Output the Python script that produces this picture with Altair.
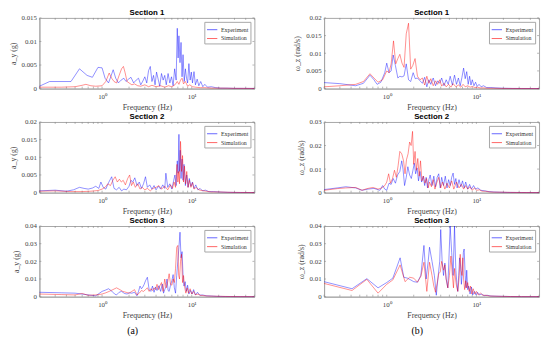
import altair as alt
import pandas as pd

# ---------------- data (frequency Hz, amplitude) ----------------
ay_s1_exp = [(0.2, 0.0005), (0.26, 0.0015), (0.45, 0.0015), (0.56, 0.0042), (0.68, 0.0028), (0.78, 0.0024),
             (0.9, 0.0045), (1.0, 0.0044), (1.08, 0.0022), (1.18, 0.0012), (1.25, 0.0025), (1.33, 0.004),
             (1.42, 0.0022), (1.52, 0.0012), (1.63, 0.0018), (1.75, 0.0022), (1.85, 0.0015), (1.97, 0.002),
             (2.1, 0.0024), (2.25, 0.0012), (2.4, 0.0018), (2.55, 0.0022), (2.7, 0.0008), (2.85, 0.0016),
             (3.0, 0.0025), (3.15, 0.0012), (3.3, 0.0038), (3.45, 0.0047), (3.6, 0.0015), (3.75, 0.0028),
             (3.9, 0.0008), (4.05, 0.0035), (4.2, 0.0022), (4.4, 0.0005), (4.6, 0.0032), (4.8, 0.0018),
             (5.0, 0.0028), (5.2, 0.0008), (5.45, 0.0032), (5.7, 0.0012), (5.95, 0.0025), (6.2, 0.0006),
             (6.45, 0.0042), (6.7, 0.0018), (6.9, 0.0128), (7.05, 0.0065), (7.2, 0.0112), (7.4, 0.0055),
             (7.6, 0.0098), (7.8, 0.0025), (8.0, 0.0072), (8.25, 0.0015), (8.5, 0.0042), (8.75, 0.0022),
             (9.0, 0.0012), (9.3, 0.0053), (9.6, 0.0018), (9.9, 0.0035), (10.2, 0.0012), (10.6, 0.0036),
             (11.0, 0.0008), (11.5, 0.002), (12.0, 0.0006), (12.6, 0.0015), (13.3, 0.0004), (14.0, 0.0009),
             (15.0, 0.0003), (16.5, 0.0004), (18.5, 0.0002), (21, 0.0001), (25, 0.0001), (30, 0.00005),
             (38, 0.00005), (50, 0.00003)]
ay_s1_sim = [(0.2, 0.0003), (0.35, 0.0003), (0.5, 0.0004), (0.6, 0.0007), (0.66, 0.0009), (0.75, 0.0006),
             (0.85, 0.0005), (1.0, 0.0006), (1.1, 0.0015), (1.2, 0.0033), (1.28, 0.0022), (1.36, 0.0015),
             (1.45, 0.0012), (1.55, 0.0028), (1.65, 0.0042), (1.73, 0.0047), (1.8, 0.0035), (1.9, 0.0015),
             (2.0, 0.0012), (2.15, 0.0008), (2.3, 0.001), (2.5, 0.0006), (2.7, 0.0005), (3.0, 0.0008),
             (3.3, 0.0004), (3.6, 0.0007), (4.0, 0.0004), (4.5, 0.0006), (5.0, 0.0003), (5.5, 0.0006),
             (6.0, 0.0004), (6.5, 0.0008), (6.9, 0.0015), (7.2, 0.0009), (7.5, 0.0018), (7.8, 0.0022),
             (8.1, 0.001), (8.5, 0.0015), (9.0, 0.0005), (9.5, 0.0008), (10.2, 0.0004), (11, 0.0003),
             (12.5, 0.0002), (14, 0.0002), (17, 0.0001), (22, 0.0001), (30, 0.00005), (50, 0.00003)]

wz_s1_exp = [(0.2, 0.0017), (0.3, 0.0014), (0.45, 0.0008), (0.55, 0.0015), (0.65, 0.0038), (0.72, 0.0025),
             (0.78, 0.0012), (0.86, 0.0018), (0.95, 0.0045), (1.0, 0.0072), (1.06, 0.0045), (1.12, 0.005),
             (1.18, 0.0095), (1.25, 0.0065), (1.33, 0.003), (1.4, 0.0035), (1.48, 0.0033), (1.56, 0.0036),
             (1.65, 0.007), (1.75, 0.0025), (1.85, 0.002), (1.97, 0.0045), (2.08, 0.0028), (2.2, 0.003),
             (2.35, 0.0022), (2.5, 0.0015), (2.65, 0.0032), (2.8, 0.0005), (2.95, 0.0025), (3.1, 0.0012),
             (3.3, 0.003), (3.5, 0.0008), (3.7, 0.0022), (3.9, 0.0015), (4.1, 0.003), (4.35, 0.0008),
             (4.6, 0.0025), (4.85, 0.0012), (5.1, 0.0035), (5.4, 0.001), (5.7, 0.0038), (6.0, 0.0012),
             (6.3, 0.003), (6.6, 0.0008), (6.9, 0.0032), (7.2, 0.0058), (7.5, 0.0028), (7.8, 0.0048),
             (8.1, 0.0012), (8.4, 0.0035), (8.7, 0.001), (9.0, 0.0025), (9.4, 0.0008), (9.8, 0.0018),
             (10.2, 0.0006), (10.7, 0.0012), (11.3, 0.0005), (12, 0.0008), (13, 0.0003), (14.5, 0.0003),
             (16.5, 0.0002), (20, 0.0001), (25, 0.00005), (32, 0.00003), (50, 0.00002)]
wz_s1_sim = [(0.2, 0.0005), (0.3, 0.0008), (0.45, 0.0012), (0.55, 0.002), (0.65, 0.0042), (0.72, 0.003),
             (0.8, 0.0018), (0.9, 0.0025), (1.0, 0.005), (1.06, 0.0045), (1.12, 0.007), (1.19, 0.0135),
             (1.26, 0.007), (1.33, 0.0085), (1.4, 0.0097), (1.48, 0.0072), (1.56, 0.006), (1.65, 0.0155),
             (1.75, 0.0185), (1.85, 0.0055), (1.95, 0.0065), (2.07, 0.0085), (2.2, 0.0035), (2.35, 0.0025),
             (2.5, 0.003), (2.65, 0.001), (2.8, 0.0035), (2.95, 0.0015), (3.1, 0.0028), (3.3, 0.0008),
             (3.5, 0.0022), (3.7, 0.0012), (3.9, 0.0025), (4.1, 0.0007), (4.35, 0.0015), (4.6, 0.0005),
             (4.9, 0.0012), (5.2, 0.0004), (5.5, 0.0014), (5.9, 0.0005), (6.3, 0.001), (6.7, 0.0004),
             (7.1, 0.0012), (7.5, 0.0005), (8.0, 0.0008), (8.5, 0.0004), (9.0, 0.0006), (9.6, 0.0003),
             (10.3, 0.0004), (11, 0.0002), (12, 0.0002), (13.5, 0.0001), (15.5, 0.0001), (19, 0.00005),
             (25, 0.00003), (33, 0.00002), (50, 0.00001)]

ay_s2_exp = [(0.2, 0.0005), (0.3, 0.0007), (0.4, 0.0004), (0.48, 0.0008), (0.56, 0.0015), (0.63, 0.0012),
             (0.7, 0.001), (0.78, 0.0013), (0.85, 0.0018), (0.92, 0.0012), (0.97, 0.003), (1.03, 0.0015),
             (1.1, 0.001), (1.18, 0.0028), (1.28, 0.0045), (1.36, 0.0012), (1.45, 0.0008), (1.55, 0.0015),
             (1.65, 0.0005), (1.75, 0.001), (1.87, 0.0008), (2.0, 0.0018), (2.1, 0.0035), (2.2, 0.003),
             (2.32, 0.0042), (2.45, 0.002), (2.6, 0.003), (2.75, 0.0012), (2.9, 0.0025), (3.05, 0.0045),
             (3.2, 0.0015), (3.4, 0.0022), (3.6, 0.001), (3.8, 0.002), (4.0, 0.0008), (4.25, 0.0018),
             (4.5, 0.001), (4.75, 0.0022), (5.0, 0.0012), (5.15, 0.0055), (5.4, 0.0015), (5.7, 0.0025),
             (6.0, 0.001), (6.3, 0.0035), (6.5, 0.005), (6.7, 0.002), (6.9, 0.009), (7.05, 0.0055),
             (7.2, 0.0165), (7.3, 0.006), (7.45, 0.012), (7.6, 0.004), (7.8, 0.0095), (8.0, 0.0035),
             (8.2, 0.008), (8.5, 0.002), (8.8, 0.005), (9.1, 0.0015), (9.4, 0.004), (9.8, 0.0018),
             (10.2, 0.003), (10.6, 0.0012), (11.1, 0.0022), (11.7, 0.0008), (12.4, 0.0012), (13.2, 0.0005),
             (14.2, 0.0007), (15.5, 0.0003), (17.5, 0.0003), (20, 0.0002), (25, 0.0001), (32, 0.00005),
             (50, 0.00003)]
ay_s2_sim = [(0.2, 0.0004), (0.3, 0.0005), (0.45, 0.0003), (0.6, 0.0003), (0.75, 0.0004), (0.9, 0.0006),
             (1.0, 0.001), (1.08, 0.0015), (1.16, 0.0025), (1.24, 0.002), (1.32, 0.0035), (1.4, 0.0045),
             (1.48, 0.003), (1.56, 0.0038), (1.64, 0.003), (1.72, 0.0035), (1.82, 0.0022), (1.93, 0.004),
             (2.03, 0.005), (2.13, 0.002), (2.23, 0.003), (2.35, 0.0015), (2.5, 0.0025), (2.65, 0.001),
             (2.8, 0.0015), (3.0, 0.0008), (3.2, 0.0012), (3.45, 0.0005), (3.7, 0.0012), (4.0, 0.0015),
             (4.3, 0.002), (4.6, 0.001), (5.0, 0.0018), (5.4, 0.0008), (5.8, 0.0022), (6.1, 0.0012),
             (6.35, 0.003), (6.6, 0.0015), (6.85, 0.008), (7.0, 0.003), (7.15, 0.006), (7.3, 0.0025),
             (7.5, 0.0145), (7.7, 0.006), (7.9, 0.0105), (8.1, 0.003), (8.3, 0.0075), (8.55, 0.0025),
             (8.8, 0.006), (9.1, 0.0015), (9.4, 0.0035), (9.8, 0.0015), (10.2, 0.0028), (10.6, 0.001),
             (11.2, 0.0015), (12, 0.0008), (13, 0.0006), (14.5, 0.0004), (16.5, 0.0002), (20, 0.0002),
             (26, 0.0001), (35, 0.00005), (50, 0.00003)]

wz_s2_exp = [(0.2, 0.0013), (0.28, 0.002), (0.35, 0.0025), (0.45, 0.002), (0.53, 0.001), (0.62, 0.0015),
             (0.72, 0.0018), (0.84, 0.001), (0.9, 0.003), (0.95, 0.0015), (1.0, 0.001), (1.06, 0.004),
             (1.12, 0.0035), (1.18, 0.006), (1.25, 0.004), (1.32, 0.0075), (1.4, 0.009), (1.47, 0.0135),
             (1.52, 0.01), (1.58, 0.003), (1.65, 0.0065), (1.72, 0.011), (1.8, 0.0075), (1.88, 0.006),
             (1.96, 0.0095), (2.03, 0.0125), (2.1, 0.008), (2.18, 0.0105), (2.26, 0.005), (2.35, 0.009),
             (2.45, 0.0045), (2.55, 0.007), (2.65, 0.003), (2.75, 0.0065), (2.85, 0.002), (2.95, 0.0055),
             (3.05, 0.0075), (3.2, 0.003), (3.35, 0.007), (3.5, 0.0025), (3.65, 0.0065), (3.8, 0.008),
             (3.95, 0.002), (4.1, 0.0065), (4.3, 0.003), (4.5, 0.007), (4.7, 0.002), (4.9, 0.0055),
             (5.1, 0.003), (5.3, 0.0065), (5.5, 0.0083), (5.7, 0.0035), (5.9, 0.006), (6.1, 0.002),
             (6.4, 0.0055), (6.7, 0.0025), (7.0, 0.005), (7.3, 0.002), (7.6, 0.0045), (8.0, 0.0015),
             (8.4, 0.0035), (8.8, 0.0015), (9.3, 0.003), (9.8, 0.0015), (10.4, 0.002), (11.2, 0.001),
             (12.2, 0.0008), (13.5, 0.0005), (15.5, 0.0003), (18, 0.0002), (22, 0.0001), (28, 0.00008),
             (36, 0.00005), (50, 0.00003)]
wz_s2_sim = [(0.2, 0.001), (0.28, 0.0017), (0.35, 0.002), (0.45, 0.0022), (0.53, 0.001), (0.6, 0.0017),
             (0.7, 0.0022), (0.8, 0.0015), (0.88, 0.002), (0.95, 0.003), (1.0, 0.0045), (1.05, 0.008),
             (1.1, 0.004), (1.16, 0.006), (1.22, 0.0095), (1.28, 0.0065), (1.34, 0.0115), (1.4, 0.0175),
             (1.47, 0.0165), (1.54, 0.0135), (1.6, 0.008), (1.66, 0.014), (1.73, 0.0165), (1.8, 0.0215),
             (1.87, 0.02), (1.94, 0.026), (2.0, 0.012), (2.07, 0.0175), (2.14, 0.0095), (2.22, 0.0145),
             (2.3, 0.007), (2.38, 0.0135), (2.47, 0.005), (2.57, 0.007), (2.67, 0.004), (2.78, 0.006),
             (2.9, 0.002), (3.0, 0.0045), (3.15, 0.0025), (3.3, 0.0055), (3.45, 0.0015), (3.6, 0.004),
             (3.8, 0.0065), (4.0, 0.002), (4.2, 0.0045), (4.45, 0.0015), (4.7, 0.004), (5.0, 0.002),
             (5.3, 0.005), (5.6, 0.0015), (6.0, 0.0045), (6.4, 0.002), (6.8, 0.0035), (7.2, 0.0015),
             (7.6, 0.003), (8.0, 0.0015), (8.5, 0.0025), (9.0, 0.001), (9.5, 0.002), (10.1, 0.001),
             (10.8, 0.0012), (11.6, 0.0006), (12.6, 0.0006), (14, 0.0003), (16, 0.0002), (19, 0.0002),
             (24, 0.0001), (32, 0.00005), (50, 0.00003)]

ay_s3_exp = [(0.2, 0.0025), (0.35, 0.0022), (0.5, 0.002), (0.6, 0.0015), (0.7, 0.001), (0.85, 0.0005),
             (1.0, 0.003), (1.1, 0.0038), (1.18, 0.0045), (1.28, 0.0032), (1.38, 0.0015), (1.45, 0.001),
             (1.55, 0.0025), (1.65, 0.003), (1.78, 0.0018), (1.9, 0.0015), (2.0, 0.0022), (2.15, 0.002),
             (2.3, 0.0025), (2.45, 0.0005), (2.55, 0.003), (2.65, 0.006), (2.75, 0.0045), (2.85, 0.0055),
             (2.95, 0.007), (3.05, 0.009), (3.2, 0.011), (3.35, 0.004), (3.5, 0.003), (3.65, 0.006),
             (3.8, 0.0025), (3.95, 0.0055), (4.1, 0.0035), (4.3, 0.0062), (4.5, 0.003), (4.7, 0.0072),
             (4.85, 0.002), (5.0, 0.004), (5.15, 0.0055), (5.3, 0.01), (5.45, 0.0035), (5.6, 0.003),
             (5.8, 0.0065), (6.0, 0.009), (6.2, 0.0125), (6.4, 0.005), (6.6, 0.002), (6.8, 0.012),
             (7.0, 0.02), (7.2, 0.028), (7.4, 0.0365), (7.6, 0.022), (7.8, 0.0255), (8.0, 0.012),
             (8.2, 0.006), (8.45, 0.0085), (8.7, 0.003), (9.0, 0.0065), (9.3, 0.0015), (9.7, 0.0035),
             (10.1, 0.0015), (10.5, 0.004), (11, 0.001), (11.6, 0.0025), (12.3, 0.0008), (13.2, 0.001),
             (14.5, 0.0005), (16.5, 0.0004), (19, 0.0002), (24, 0.0001), (32, 0.00005), (50, 0.00003)]
ay_s3_sim = [(0.2, 0.0015), (0.35, 0.0012), (0.5, 0.001), (0.6, 0.0018), (0.7, 0.0008), (0.85, 0.001),
             (1.0, 0.0015), (1.1, 0.0022), (1.2, 0.003), (1.32, 0.004), (1.45, 0.005), (1.58, 0.004),
             (1.7, 0.003), (1.85, 0.0025), (2.0, 0.002), (2.15, 0.003), (2.3, 0.004), (2.45, 0.001),
             (2.6, 0.002), (2.75, 0.0035), (2.9, 0.003), (3.05, 0.004), (3.2, 0.005), (3.35, 0.003),
             (3.5, 0.0045), (3.65, 0.0035), (3.8, 0.005), (3.95, 0.004), (4.1, 0.007), (4.25, 0.004),
             (4.4, 0.006), (4.6, 0.008), (4.8, 0.003), (5.0, 0.01), (5.2, 0.005), (5.4, 0.0085),
             (5.6, 0.013), (5.8, 0.007), (6.0, 0.0065), (6.2, 0.01), (6.4, 0.008), (6.6, 0.016),
             (6.8, 0.028), (7.0, 0.029), (7.15, 0.012), (7.3, 0.01), (7.5, 0.02), (7.7, 0.024),
             (7.9, 0.008), (8.1, 0.012), (8.3, 0.006), (8.6, 0.002), (8.9, 0.005), (9.2, 0.002),
             (9.6, 0.0045), (10, 0.0015), (10.5, 0.003), (11, 0.001), (11.7, 0.0015), (12.5, 0.0008),
             (13.5, 0.0006), (15, 0.0004), (17.5, 0.0003), (21, 0.0002), (27, 0.0001), (35, 0.00005),
             (50, 0.00003)]

wz_s3_exp = [(0.2, 0.0085), (0.41, 0.0045), (0.6, 0.0102), (0.8, 0.005), (1.0, 0.008), (1.17, 0.0105),
             (1.41, 0.022), (1.55, 0.011), (1.7, 0.0105), (1.85, 0.0095), (2.0, 0.0085), (2.2, 0.0082),
             (2.4, 0.012), (2.6, 0.029), (2.75, 0.01), (2.9, 0.02), (3.0, 0.028), (3.2, 0.02),
             (3.4, 0.012), (3.57, 0.0008), (3.75, 0.012), (3.9, 0.02), (4.0, 0.038), (4.15, 0.02),
             (4.3, 0.012), (4.45, 0.019), (4.6, 0.01), (4.8, 0.005), (5.1, 0.04), (5.3, 0.025),
             (5.5, 0.012), (5.7, 0.04), (5.9, 0.015), (6.05, 0.008), (6.2, 0.003), (6.35, 0.012),
             (6.5, 0.022), (6.65, 0.018), (6.8, 0.007), (7.0, 0.015), (7.15, 0.025), (7.3, 0.027),
             (7.5, 0.012), (7.65, 0.005), (7.8, 0.015), (8.0, 0.004), (8.2, 0.006), (8.5, 0.0015),
             (8.8, 0.0055), (9.1, 0.001), (9.5, 0.003), (9.9, 0.001), (10.3, 0.0025), (10.8, 0.001),
             (11.4, 0.0015), (12.2, 0.0006), (13.2, 0.0008), (14.5, 0.0004), (16.5, 0.0003),
             (19.5, 0.0002), (24, 0.0001), (32, 0.00005), (50, 0.00003)]
wz_s3_sim = [(0.2, 0.0075), (0.41, 0.0035), (0.6, 0.0098), (0.8, 0.002), (1.0, 0.007), (1.17, 0.0095),
             (1.41, 0.018), (1.6, 0.0085), (1.8, 0.011), (2.0, 0.0105), (2.2, 0.0082), (2.4, 0.0115),
             (2.6, 0.0195), (2.8, 0.003), (3.0, 0.0195), (3.2, 0.012), (3.35, 0.006), (3.5, 0.0025),
             (3.65, 0.0075), (3.8, 0.013), (3.95, 0.014), (4.1, 0.02), (4.3, 0.015), (4.45, 0.018),
             (4.6, 0.01), (4.8, 0.005), (5.0, 0.012), (5.2, 0.023), (5.4, 0.012), (5.55, 0.005),
             (5.7, 0.016), (5.85, 0.01), (6.0, 0.006), (6.2, 0.003), (6.4, 0.01), (6.6, 0.024),
             (6.75, 0.015), (6.9, 0.012), (7.05, 0.022), (7.2, 0.01), (7.4, 0.004), (7.6, 0.009),
             (7.8, 0.005), (8.0, 0.008), (8.3, 0.003), (8.6, 0.006), (8.9, 0.0015), (9.2, 0.0045),
             (9.6, 0.0015), (10, 0.003), (10.5, 0.001), (11.1, 0.002), (11.8, 0.0008), (12.7, 0.0008),
             (14, 0.0004), (16, 0.0003), (19, 0.0002), (24, 0.0001), (32, 0.00005), (50, 0.00003)]

series_names = ["Experiment", "Simulation"]
series_colors = ["#0000ff", "#ff0000"]
x_minor_ticks = [0.2, 0.3, 0.4, 0.5, 0.6, 0.7, 0.8, 0.9, 1, 2, 3, 4, 5, 6, 7, 8, 9, 10, 20, 30, 40, 50]
y_ticks_a1 = [0, 0.005, 0.01, 0.015]
y_ticks_a2 = [0, 0.005, 0.01, 0.015, 0.02]
y_ticks_a3 = [0, 0.01, 0.02, 0.03, 0.04]
y_ticks_b1 = [0, 0.005, 0.01, 0.015, 0.02]
y_ticks_b2 = [0, 0.01, 0.02, 0.03]
y_ticks_b3 = [0, 0.01, 0.02, 0.03, 0.04]

W, H = 219, 72
SERIF = "Liberation Serif"
GRAY = "#a6a6a6"


def panel(title, ytitle, exp, sim, yticks):
    rows = [{"f": f, "v": v, "s": series_names[0]} for f, v in exp] + \
           [{"f": f, "v": v, "s": series_names[1]} for f, v in sim]
    df = pd.DataFrame(rows)
    xenc = alt.X("f:Q", scale=alt.Scale(type="log", domain=[0.2, 50], nice=False),
                 axis=alt.Axis(values=[1, 10], labelExpr="datum.value == 1 ? '10⁰' : '10¹'",
                               title="Frequency (Hz)", ticks=False, labelPadding=4, titlePadding=4))
    yenc = alt.Y("v:Q", scale=alt.Scale(domain=[0, yticks[-1]], nice=False),
                 axis=alt.Axis(values=yticks, format="~f", title=ytitle, ticks=False,
                               labelPadding=3, titlePadding=4))
    lines = alt.Chart(df).mark_line(strokeWidth=0.8, opacity=0.55).encode(
        x=xenc, y=yenc,
        color=alt.Color("s:N", scale=alt.Scale(domain=series_names, range=series_colors),
                        legend=alt.Legend(title=None, orient="top-right", offset=4, padding=2,
                                          strokeColor=GRAY, fillColor="white",
                                          labelFont=SERIF, labelFontSize=6, labelColor="#333",
                                          symbolType="stroke", symbolSize=110, symbolStrokeWidth=1,
                                          symbolOpacity=0.6, rowPadding=-1, labelOffset=3)),
    )
    tdf = pd.DataFrame({"f": x_minor_ticks})
    xt_bot = alt.Chart(tdf).mark_rule(color="#888", strokeWidth=0.6).encode(
        x=xenc, y=alt.value(H), y2=alt.value(H - 2))
    xt_top = alt.Chart(tdf).mark_rule(color="#888", strokeWidth=0.6).encode(
        x=xenc, y=alt.value(0), y2=alt.value(2))
    ydf = pd.DataFrame({"v": yticks})
    yt_l = alt.Chart(ydf).mark_rule(color="#888", strokeWidth=0.6).encode(
        y=yenc, x=alt.value(0), x2=alt.value(2))
    yt_r = alt.Chart(ydf).mark_rule(color="#888", strokeWidth=0.6).encode(
        y=yenc, x=alt.value(W), x2=alt.value(W - 2))
    return alt.layer(xt_bot, xt_top, yt_l, yt_r, lines).properties(
        width=W, height=H, title=alt.TitleParams(title))


def column(label, ytitle, panels):
    return alt.vconcat(
        *[panel(t, ytitle, e, s, yt) for t, e, s, yt in panels],
        spacing=0,
        title=alt.TitleParams(label, orient="bottom", anchor="middle", font=SERIF, fontSize=10,
                              fontWeight="normal", offset=6),
    ).resolve_legend(color="independent").resolve_scale(color="independent")


col_a = column("(a)", "a_y (g)", [
    ("Section 1", ay_s1_exp, ay_s1_sim, y_ticks_a1),
    ("Section 2", ay_s2_exp, ay_s2_sim, y_ticks_a2),
    ("Section 3", ay_s3_exp, ay_s3_sim, y_ticks_a3),
])
col_b = column("(b)", "ω_z (rad/s)", [
    ("Section 1", wz_s1_exp, wz_s1_sim, y_ticks_b1),
    ("Section 2", wz_s2_exp, wz_s2_sim, y_ticks_b2),
    ("Section 3", wz_s3_exp, wz_s3_sim, y_ticks_b3),
])

chart = alt.hconcat(col_a, col_b, spacing=36).resolve_legend(color="independent").resolve_scale(
    color="independent").properties(padding={"left": 0, "top": -3, "right": 0, "bottom": 0}).configure_axis(
    labelFont=SERIF, labelFontSize=7, labelColor="#444",
    titleFont=SERIF, titleFontSize=8, titleFontWeight="normal", titleColor="#444",
    domainColor=GRAY, domainWidth=1, grid=False,
).configure_view(stroke=GRAY, strokeWidth=1).configure_title(
    font="Liberation Sans", fontSize=8, fontWeight="bold", color="black", offset=-3
)

chart.save("out.html", embed_options={"renderer": "svg", "actions": False})
